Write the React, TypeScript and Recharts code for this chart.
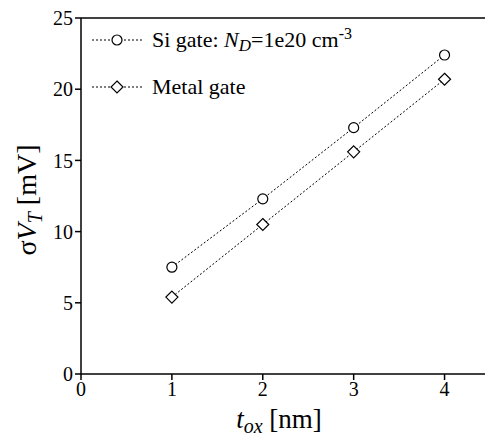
import { LineChart, Line, XAxis, YAxis, ReferenceLine, Label } from 'recharts'

const tox = [1, 2, 3, 4]
const siGate = [7.5, 12.3, 17.3, 22.4]
const metalGate = [5.4, 10.5, 15.6, 20.7]
const xTicks = [0, 1, 2, 3, 4]
const yTicks = [0, 5, 10, 15, 20, 25]

const data = tox.map((t, i) => ({ tox: t, si: siGate[i], metal: metalGate[i] }))

const FONT = 'Liberation Serif'

function Circle(props: any) {
  const { cx, cy } = props
  if (cx == null || cy == null) return null
  return <circle cx={cx} cy={cy} r={5} fill="#fff" stroke="#000" strokeWidth={1.2} />
}

function Diamond(props: any) {
  const { cx, cy } = props
  if (cx == null || cy == null) return null
  const s = 6
  return (
    <path
      d={`M${cx},${cy - s}L${cx + s},${cy}L${cx},${cy + s}L${cx - s},${cy}Z`}
      fill="#fff"
      stroke="#000"
      strokeWidth={1.2}
    />
  )
}

export default function App() {
  return (
    <div
      style={{
        position: 'absolute',
        left: 0,
        top: 0,
        width: 485,
        height: 437,
        overflow: 'hidden',
        background: '#fff',
      }}
    >
      <LineChart width={490} height={437} data={data} margin={{ top: 18, right: 0, bottom: 0, left: 0 }}>
        <XAxis
          dataKey="tox"
          type="number"
          domain={[0, 4.5]}
          ticks={xTicks}
          tickSize={6}
          axisLine={{ stroke: '#000', strokeWidth: 1.5 }}
          tickLine={{ stroke: '#000', strokeWidth: 1.5 }}
          tick={{ fill: '#000', fontSize: 20, fontFamily: FONT }}
          height={63}
        >
          <Label
            content={() => (
              <text x={279} y={428} textAnchor="middle" fontFamily={FONT} fontSize={27} fill="#000">
                <tspan fontStyle="italic">t</tspan>
                <tspan fontStyle="italic" fontSize={20} dy={5}>ox</tspan>
                <tspan dy={-5} fontStyle="normal"> [nm]</tspan>
              </text>
            )}
          />
        </XAxis>
        <YAxis
          type="number"
          domain={[0, 25]}
          ticks={yTicks}
          tickSize={6}
          axisLine={{ stroke: '#000', strokeWidth: 1.5 }}
          tickLine={{ stroke: '#000', strokeWidth: 1.5 }}
          tick={{ fill: '#000', fontSize: 20, fontFamily: FONT }}
          width={81}
        >
          <Label
            content={() => (
              <text
                x={0}
                y={0}
                transform="translate(36,200) rotate(-90)"
                textAnchor="middle"
                fontFamily={FONT}
                fontSize={28}
                fill="#000"
              >
                <tspan>σ</tspan>
                <tspan fontStyle="italic">V</tspan>
                <tspan fontStyle="italic" fontSize={20} dy={6}>T</tspan>
                <tspan dy={-6}> [mV]</tspan>
              </text>
            )}
          />
        </YAxis>
        <ReferenceLine y={25} stroke="#000" strokeWidth={1.5} />
        <Line
          dataKey="si"
          stroke="#000"
          strokeWidth={1}
          strokeDasharray="2 2"
          dot={<Circle />}
          isAnimationActive={false}
        />
        <Line
          dataKey="metal"
          stroke="#000"
          strokeWidth={1}
          strokeDasharray="2 2"
          dot={<Diamond />}
          isAnimationActive={false}
        />
      </LineChart>
      <svg width={485} height={437} style={{ position: 'absolute', left: 0, top: 0, pointerEvents: 'none' }}>
        <line x1={92} y1={40} x2={144} y2={40} stroke="#000" strokeDasharray="2 2" />
        <Circle cx={117} cy={40} />
        <text x={152} y={47} fontFamily={FONT} fontSize={22} fill="#000">
          <tspan>Si gate: </tspan>
          <tspan fontStyle="italic">N</tspan>
          <tspan fontStyle="italic" fontSize={17} dy={4}>D</tspan>
          <tspan dy={-4}>=1e20 cm</tspan>
          <tspan fontSize={16} dy={-8}>-3</tspan>
        </text>
        <line x1={92} y1={87} x2={144} y2={87} stroke="#000" strokeDasharray="2 2" />
        <Diamond cx={117} cy={87} />
        <text x={152} y={94} fontFamily={FONT} fontSize={22} fill="#000">
          Metal gate
        </text>
      </svg>
    </div>
  )
}
